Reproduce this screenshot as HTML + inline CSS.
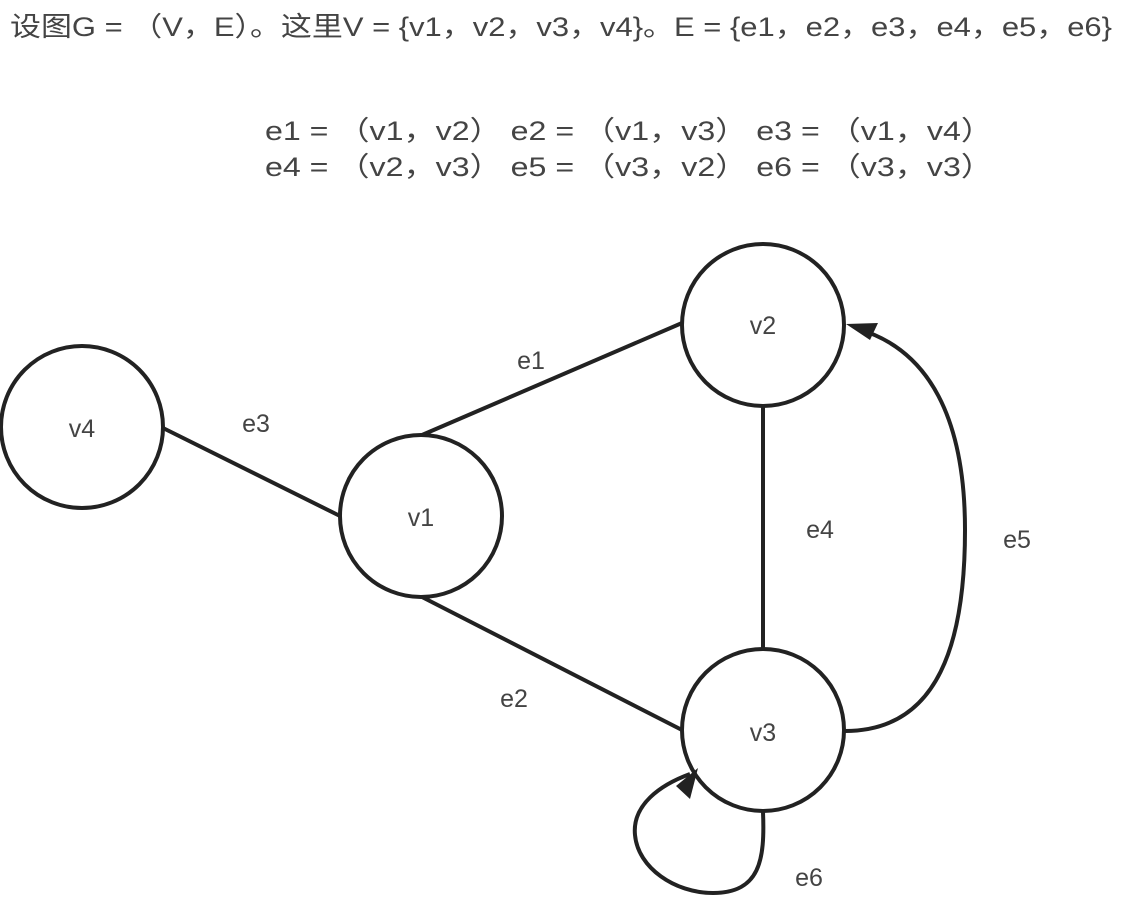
<!DOCTYPE html>
<html><head><meta charset="utf-8"><style>
html,body{margin:0;padding:0;background:#fff;width:1129px;height:901px;overflow:hidden}
svg text{font-family:"Liberation Sans","Noto Sans CJK SC",sans-serif;fill:#444}
</style></head><body>
<svg width="1129" height="901" viewBox="0 0 1129 901" xmlns="http://www.w3.org/2000/svg">
<text x="10" y="36" font-size="27" textLength="1102" lengthAdjust="spacingAndGlyphs">设图G = （V，E）。这里V = {v1，v2，v3，v4}。E = {e1，e2，e3，e4，e5，e6}</text>
<text x="265" y="140" font-size="27" textLength="728" lengthAdjust="spacingAndGlyphs">e1 = （v1，v2）    e2 = （v1，v3）    e3 = （v1，v4）</text>
<text x="265" y="176" font-size="27" textLength="728" lengthAdjust="spacingAndGlyphs">e4 = （v2，v3）    e5 = （v3，v2）    e6 = （v3，v3）</text>
<g stroke="#222" stroke-width="4" fill="none">
<line x1="163" y1="428" x2="340" y2="516"/>
<line x1="422" y1="435" x2="682" y2="323"/>
<line x1="422" y1="597" x2="682" y2="730"/>
<line x1="763" y1="405" x2="763" y2="649"/>
<path d="M845 731 C940 731 965 640 965 530 C965 420 930 350 858 329"/>
<path d="M763 812 C765 860 760 893 713 893 C675 893 638 868 635 835 C632 805 660 785 690 774"/>
<circle cx="82" cy="427" r="81" fill="#fff"/>
<circle cx="421" cy="516" r="81" fill="#fff"/>
<circle cx="763" cy="325" r="81" fill="#fff"/>
<circle cx="763" cy="730" r="81" fill="#fff"/>
</g>
<polygon points="846,324 878,323 870,340" fill="#222"/>
<polygon points="698,768 690,799 676,786" fill="#222"/>
<g font-size="25" text-anchor="middle">
<text x="82" y="437">v4</text>
<text x="421" y="526">v1</text>
<text x="763" y="334">v2</text>
<text x="763" y="741">v3</text>
<text x="256" y="432">e3</text>
<text x="531" y="369">e1</text>
<text x="514" y="707">e2</text>
<text x="820" y="538">e4</text>
<text x="1017" y="548">e5</text>
<text x="809" y="886">e6</text>
</g>
</svg>
</body></html>
